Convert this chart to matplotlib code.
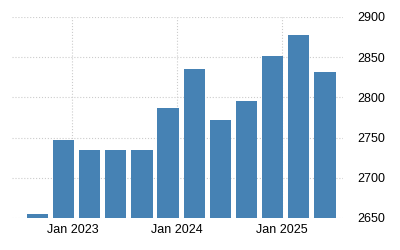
import numpy as np
import pandas as pd
import matplotlib
matplotlib.use('Agg')
import matplotlib.pyplot as plt
import matplotlib.dates as mdates

dates = pd.to_datetime(['2022-09-01', '2022-12-01', '2023-03-01', '2023-06-01',
                        '2023-09-01', '2023-12-01', '2024-03-01', '2024-06-01',
                        '2024-09-01', '2024-12-01', '2025-03-01', '2025-06-01'])
values = [2655, 2747, 2734, 2734, 2735, 2787, 2835, 2772, 2795, 2851, 2877, 2831]
yticks = [2650, 2700, 2750, 2800, 2850, 2900]
xticks = pd.to_datetime(['2023-01-01', '2024-01-01', '2025-01-01'])
xlabels = ['Jan 2023', 'Jan 2024', 'Jan 2025']

plt.rcParams['font.family'] = ['Liberation Sans', 'DejaVu Sans']

fig = plt.figure(figsize=(4, 2.5), dpi=100)
ax = fig.add_axes([0.03, 0.128, 0.8275, 0.804])

ax.bar(dates, [v - 2650 for v in values], bottom=2650, width=74, color='#4682b4', zorder=2)

ax.set_ylim(2650, 2900)
ax.set_xlim(pd.Timestamp('2022-06-04'), pd.Timestamp('2025-08-03'))
ax.set_yticks(yticks)
ax.set_xticks(xticks)
ax.set_xticklabels(xlabels)
ax.yaxis.tick_right()
ax.tick_params(length=0, labelsize=9, colors='black')
ax.tick_params(axis='y', pad=10)
ax.tick_params(axis='x', pad=4)
for s in ax.spines.values():
    s.set_visible(False)
ax.grid(True, color='#cccccc', linestyle=':', linewidth=0.8, zorder=0)
ax.set_axisbelow(True)

fig.savefig('out.png', dpi=100)
